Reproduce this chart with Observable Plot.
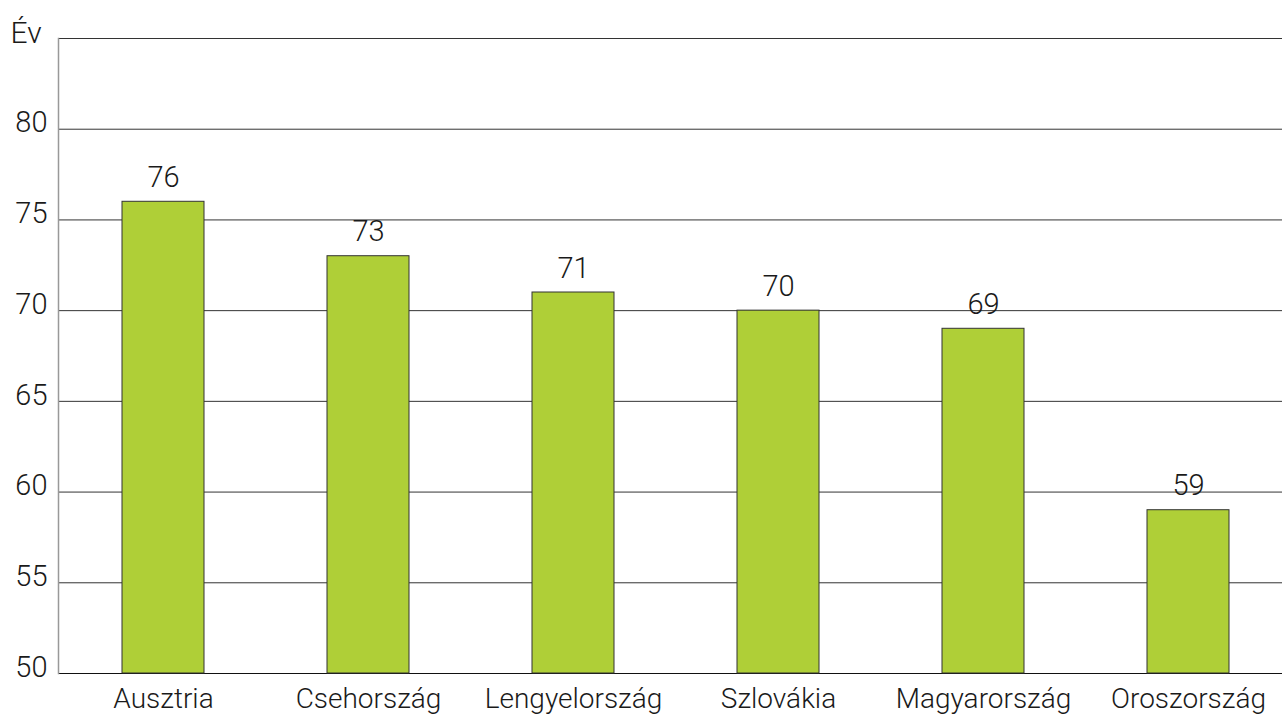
<!DOCTYPE html>
<html>
<head>
<meta charset="utf-8">
<script src="https://cdn.jsdelivr.net/npm/d3@7"></script>
<script src="https://cdn.jsdelivr.net/npm/@observablehq/plot@0.6"></script>
<style>
  html, body { margin: 0; padding: 0; background: #fff; }
  #chart svg { display: block; }
</style>
</head>
<body>
<div id="chart"></div>
<script>
const countries = ["Ausztria", "Csehország", "Lengyelország", "Szlovákia", "Magyarország", "Oroszország"];
const values = [76, 73, 71, 70, 69, 59];
const yTickLabels = [50, 55, 60, 65, 70, 75, 80];
const gridValues = [55, 60, 65, 70, 75, 80, 85];
const yBase = 50;
const yTop = 85;
const yUnit = "Év";

const data = countries.map((c, i) => ({country: c, value: values[i]}));

const font = "Roboto, 'Liberation Sans', sans-serif";

const chart = Plot.plot({
  width: 1282,
  height: 716,
  marginTop: 38,
  marginBottom: 43,
  marginLeft: 58,
  marginRight: 0,
  style: {fontFamily: font, fontSize: "28px", fontWeight: 300, color: "#1a1a1a", background: "#fff", overflow: "visible"},
  x: {domain: countries, range: [58, 1292], paddingInner: 0.6, paddingOuter: 0.3, label: null},
  y: {domain: [yBase, yTop], label: null},
  marks: [
    Plot.ruleY(gridValues, {stroke: "#333", strokeWidth: 1}),
    Plot.ruleY([yBase], {stroke: "#111", strokeWidth: 1.2}),
    Plot.frame({anchor: "left", stroke: "#999", strokeWidth: 1.5}),
    Plot.barY(data, {x: "country", y1: yBase, y2: "value", fill: "#AFCF37", stroke: "#333", strokeWidth: 1, inset: 0}),
    Plot.text(data, {x: "country", y: "value", text: d => String(d.value), lineAnchor: "bottom", dy: -15, fontSize: 29, fill: "#1a1a1a"}),
    Plot.axisX({tickSize: 0, tickPadding: 15, fontSize: 28, label: null}),
    Plot.axisY({ticks: yTickLabels, tickSize: 0, tickPadding: 11, fontSize: 29, dy: -6, label: null, tickFormat: d => String(d)}),
    Plot.text([yUnit], {frameAnchor: "top-left", textAnchor: "start", lineAnchor: "middle", dx: -48, dy: -5, fontSize: 30, fill: "#1a1a1a"})
  ]
});
document.getElementById("chart").appendChild(chart);
</script>
</body>
</html>
